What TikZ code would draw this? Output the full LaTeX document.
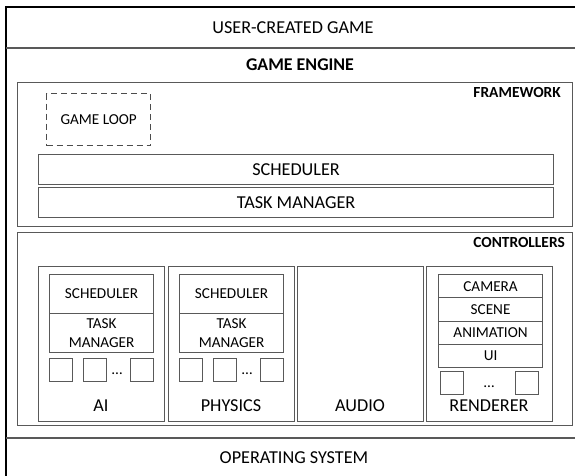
\documentclass[tikz,border=0pt]{standalone}
\usepackage{fontspec}
\setmainfont{Carlito}
\usepackage{tikz}

\begin{document}
\begin{tikzpicture}[x=1pt,y=-1pt,
		frame/.style={draw=black!65,line width=1.1pt},
		box/.style={frame,inner sep=0pt,align=center,anchor=north west},
		big/.style={font=\fontsize{18.2}{20}\selectfont},
		small/.style={font=\fontsize{15.2}{18.5}\selectfont},
		heading/.style={font=\fontsize{15.4}{17}\selectfont\bfseries,inner sep=0pt,anchor=east}]
		
		% Lienzo
		\useasboundingbox (0,0) rectangle (575,476);
		
		% Borde exterior y capas
		\draw[black,line width=1.2pt] (575,7) -- (6,7) -- (6,476);
		\draw[frame,line width=1.6pt] (6,48) -- (575,48);
		\draw[frame,line width=1.6pt] (6,438) -- (575,438);
		
		\node[big] (user) at (293,28) {USER-CREATED GAME};
		\node[font=\fontsize{17.9}{20}\selectfont\bfseries] (engine) at (300,65) {GAME ENGINE};
		\node[big] (os) at (294,458) {OPERATING SYSTEM};
		
		% Framework
		\node[box,minimum width=555,minimum height=144] (fw) at (17,82) {};
		\node[heading] (fw-title) at (561,93) {FRAMEWORK};
		\node[box,small,draw=black!70,line width=1.3pt,dash pattern=on 6pt off 4pt,minimum width=104,minimum height=52] (loop) at (46,93) {GAME LOOP};
		\node[box,big,minimum width=515,minimum height=30] (sched) at (38,154) {SCHEDULER};
		\node[box,big,minimum width=515,minimum height=30] (tasks) at (38,187) {TASK MANAGER};
		
		% Controladores
		\node[box,minimum width=555,minimum height=193] (ctrl) at (17,232) {};
		\node[heading] (ctrl-title) at (565,243) {CONTROLLERS};
		
		\foreach \name/\x/\lbl in {ai/38/AI, phys/168/PHYSICS, audio/297/AUDIO, rend/426/RENDERER}{
			\node[box,minimum width=126,minimum height=155] (\name) at (\x,266) {};
			\node[big,anchor=base] (\name-lbl) at (\x+63,411) {\lbl};
		}
		
		% Subsistemas con planificador propio
		\foreach \name/\x in {ai/49, phys/179}{
			\node[box,small,minimum width=104,minimum height=39] (\name-sched) at (\x,274) {SCHEDULER};
			\node[box,small,minimum width=104,minimum height=39] (\name-tasks) at (\x,313) {TASK\\MANAGER};
			\foreach \i/\dx in {1/0, 2/34, 3/81}
			\node[box,minimum size=23] (\name-q\i) at (\x+\dx,358) {};
			\node[small,anchor=base] (\name-dots) at (\x+68,374) {\dots};
		}
		
		% Renderer
		\foreach \i/\lbl/\y in {1/CAMERA/274, 2/SCENE/297.3, 3/ANIMATION/320.6, 4/UI/343.9}
		\node[box,small,minimum width=104,minimum height=23.3] (rend-\i) at (438,\y) {\lbl};
		\node[box,minimum size=23] (rend-q1) at (440,371) {};
		\node[box,minimum size=23] (rend-q2) at (515,371) {};
		\node[small,anchor=base] (rend-dots) at (489,387) {\dots};
		
	\end{tikzpicture}
\end{document}
